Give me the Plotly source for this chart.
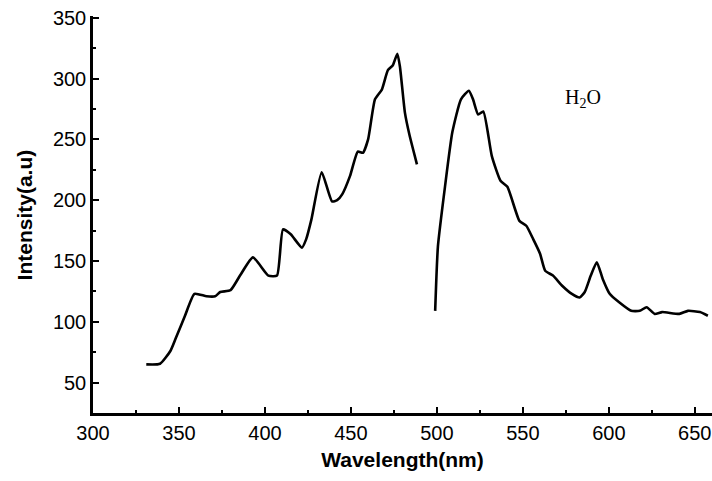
import plotly.graph_objects as go

# Segment 1 (excitation-like band)
wl1 = [331, 339, 345, 348, 353.5, 359, 366, 371, 374, 380, 385.5, 393, 402, 407, 410.5,
       415, 421.5, 424, 427, 433, 439, 442, 445, 449.5, 454, 457, 460, 464, 468, 471.5,
       474.4, 477, 478.5, 481.4, 484, 488.4]
int1 = [65, 65.5, 76, 86, 105, 123, 121, 121, 124.5, 126, 138, 153, 138, 138, 176,
        172, 161, 168, 184, 223, 199, 200, 205, 220, 240, 239, 250, 283, 291, 307,
        311, 320.5, 310, 272, 254, 229.5]

# Segment 2 (emission band)
wl2 = [499, 500.6, 504.7, 509, 514, 518.6, 521, 524, 527, 532, 537, 541, 548, 552, 556,
       560, 563, 567.5, 573, 578.5, 583, 586, 589.5, 593, 596.5, 600.5, 606, 613, 618,
       622, 626.7, 631, 641, 646, 653, 657.6]
int2 = [109, 162, 211, 256, 283, 290, 283, 270.5, 273, 236, 216, 211, 183, 179, 168,
        156, 142, 138, 129.5, 123, 120, 124.5, 138, 149, 135, 123, 116, 109, 109,
        112, 106.5, 108, 106.5, 109, 108, 105]

x_ticks = [300, 350, 400, 450, 500, 550, 600, 650]
y_ticks = [50, 100, 150, 200, 250, 300, 350]
x_minor = [325, 375, 425, 475, 525, 575, 625]
y_minor = [75, 125, 175, 225, 275, 325]

fig = go.Figure()
line = dict(color="black", width=2.6, shape="spline", smoothing=0.5)
fig.add_trace(go.Scatter(x=wl1, y=int1, mode="lines", line=line, showlegend=False))
fig.add_trace(go.Scatter(x=wl2, y=int2, mode="lines", line=line, showlegend=False))

fig.add_annotation(x=585, y=284, text="H<sub>2</sub>O", showarrow=False,
                   font=dict(family="Liberation Serif", size=20, color="black"))

# y-axis title placed as rotated annotation for exact position
fig.add_annotation(xref="paper", yref="paper", x=-0.11, y=0.5, xanchor="center",
                   yanchor="middle", textangle=-90, showarrow=False,
                   text="<b>Intensity(a.u)</b>",
                   font=dict(family="Liberation Sans", size=21, color="black"))

axis_common = dict(showgrid=False, zeroline=False, showline=True, linecolor="black",
                   linewidth=2.5, ticks="inside", ticklen=6, tickwidth=2,
                   tickcolor="black",
                   tickfont=dict(family="Liberation Sans", size=20, color="black"))

fig.update_xaxes(range=[300, 660], tickvals=x_ticks, **axis_common,
                 minor=dict(tickvals=x_minor, ticks="inside", ticklen=3, tickwidth=1.5,
                            tickcolor="black", showgrid=False),
                 title=dict(text="<b>Wavelength(nm)</b>", standoff=10,
                            font=dict(family="Liberation Sans", size=21, color="black")))
fig.update_yaxes(range=[25, 351.5], tickvals=y_ticks, **axis_common,
                 minor=dict(tickvals=y_minor, ticks="inside", ticklen=3, tickwidth=1.5,
                            tickcolor="black", showgrid=False))

fig.update_layout(width=712, height=481, margin=dict(l=93, r=0, t=16, b=68),
                  plot_bgcolor="white", paper_bgcolor="white")

fig.write_html("out.html")
